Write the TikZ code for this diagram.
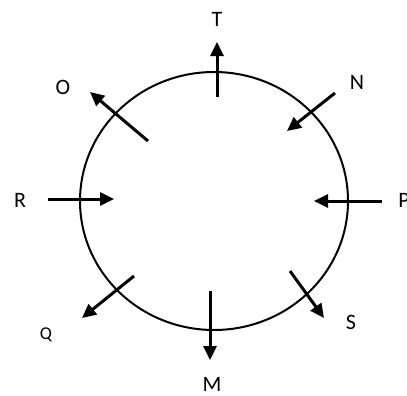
\documentclass[tikz,border=0pt]{standalone}
\usepackage{fontspec}
\setmainfont{Carlito}
\usetikzlibrary{arrows.meta}
\tikzset{
  force/.style={line width=1.5pt, -{Triangle[length=7pt,width=6.5pt]}},
  lbl/.style={font=\fontsize{11}{13}\selectfont, inner sep=0pt}
}
\begin{document}
\begin{tikzpicture}[x=0.5pt, y=-0.5pt]
  \useasboundingbox (0,0) rectangle (407,396);
  % ring
  \draw[line width=1pt] (214,201) ellipse (134 and 129);
  % ends of the arrows
  \coordinate (t1) at (217,97);  \coordinate (t2) at (217,42);
  \coordinate (n1) at (335,93);  \coordinate (n2) at (287,131);
  \coordinate (o1) at (148,141); \coordinate (o2) at (90,92);
  \coordinate (r1) at (48,199);  \coordinate (r2) at (114,199);
  \coordinate (p1) at (382,201); \coordinate (p2) at (314,201);
  \coordinate (s1) at (290,271); \coordinate (s2) at (324,318);
  \coordinate (m1) at (210,291); \coordinate (m2) at (210,360);
  \coordinate (q1) at (134,276); \coordinate (q2) at (82,318);
  % arrows
  \draw[force] (t1) -- (t2);
  \draw[force] (n1) -- (n2);
  \draw[force] (o1) -- (o2);
  \draw[force] (r1) -- (r2);
  \draw[force] (p1) -- (p2);
  \draw[force] (s1) -- (s2);
  \draw[force] (m1) -- (m2);
  \draw[force] (q1) -- (q2);
  % labels
  \node[lbl] (T) at (217,19) {T};
  \node[lbl] (N) at (357,82) {N};
  \node[lbl] (O) at (63,87) {O};
  \node[lbl] (R) at (20,200) {R};
  \node[lbl, anchor=west] (P) at (398,200) {P};
  \node[lbl] (S) at (351,322) {S};
  \node[lbl] (M) at (212,384) {M};
  \node[lbl, font=\fontsize{9}{11}\selectfont] (Q) at (46,335) {Q};
\end{tikzpicture}
\end{document}
